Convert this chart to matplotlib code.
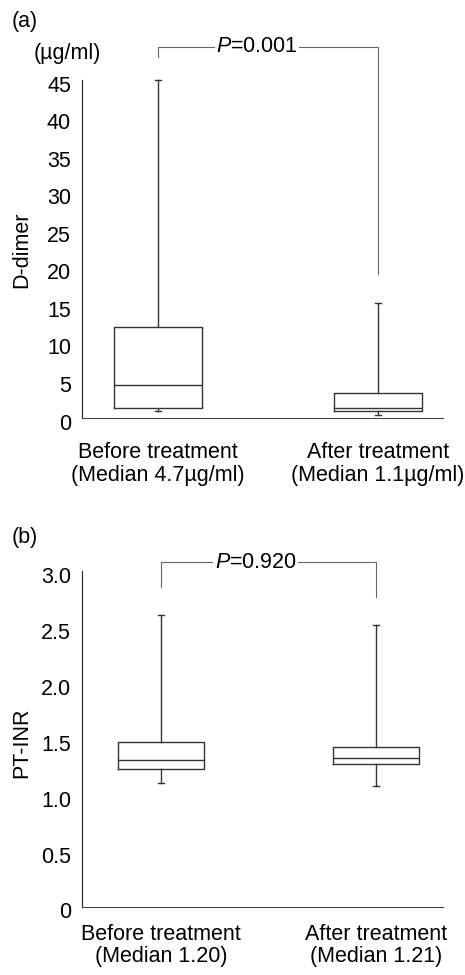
import matplotlib
matplotlib.use("Agg")
from matplotlib import pyplot as plt
from matplotlib.transforms import ScaledTranslation

plt.rcParams['font.family'] = ['Liberation Sans', 'DejaVu Sans']
plt.rcParams['mathtext.fontset'] = 'custom'
plt.rcParams['mathtext.it'] = 'Liberation Sans:italic'
plt.rcParams['mathtext.rm'] = 'Liberation Sans'

# (a) D-dimer
dd_labels = ['Before treatment\n(Median 4.7\u00b5g/ml)', 'After treatment\n(Median 1.1\u00b5g/ml)']
dd_whislo = [0.9, 0.3]
dd_q1 = [1.3, 0.9]
dd_med = [4.3, 1.3]
dd_q3 = [12.0, 3.2]
dd_whishi = [45.0, 15.2]
dd_p = 'P=0.001'
dd_yticks = [0, 5, 10, 15, 20, 25, 30, 35, 40, 45]

# (b) PT-INR
pt_labels = ['Before treatment\n(Median 1.20)', 'After treatment\n(Median 1.21)']
pt_whislo = [1.10, 1.08]
pt_q1 = [1.23, 1.27]
pt_med = [1.31, 1.33]
pt_q3 = [1.47, 1.43]
pt_whishi = [2.61, 2.52]
pt_p = 'P=0.920'
pt_yticks = [0, 0.5, 1.0, 1.5, 2.0, 2.5, 3.0]
pt_yticklabels = ['0', '0.5', '1.0', '1.5', '2.0', '2.5', '3.0']

W, H = 465, 975
FS = 15.5
fig = plt.figure(figsize=(W / 100, H / 100), dpi=100)


def px_axes(left, right, top, bottom):
    return fig.add_axes([left / W, 1 - bottom / H, (right - left) / W, (bottom - top) / H])


def draw(ax, whislo, q1, med, q3, whishi, labels, xlim, ylim, ytop, xpad):
    stats = []
    for i in range(2):
        stats.append(dict(whislo=whislo[i], q1=q1[i], med=med[i], q3=q3[i], whishi=whishi[i], fliers=[]))
    line = dict(color='#333333', linewidth=1.0)
    ax.bxp(stats, positions=[1, 2], widths=0.4, capwidths=0.03, showfliers=False,
           boxprops=line, whiskerprops=line, capprops=line,
           medianprops=dict(color='#333333', linewidth=1.0))
    ax.set_xlim(*xlim)
    ax.set_ylim(*ylim)
    for s in ['top', 'right']:
        ax.spines[s].set_visible(False)
    ax.spines['left'].set_bounds(0, ytop)
    ax.spines['left'].set_color('#222222')
    ax.spines['bottom'].set_color('#444444')
    ax.set_xticks([1, 2])
    ax.set_xticklabels(labels, fontsize=FS, linespacing=1.1)
    ax.tick_params(axis='both', length=0)
    ax.tick_params(axis='y', pad=8, labelsize=FS)
    ax.tick_params(axis='x', pad=xpad)


def shift_yticks(ax):
    off = ScaledTranslation(0, -4 / 100, fig.dpi_scale_trans)
    for lab in ax.get_yticklabels():
        lab.set_transform(lab.get_transform() + off)


def bracket(ax, top, left_end, right_end, xtext, text):
    ax.plot([1, 1, 2, 2], [left_end, top, top, right_end], color='#666666',
            linewidth=0.8, clip_on=False, zorder=1)
    ax.text(xtext, top, r'$\mathit{P}$' + text[1:], fontsize=FS, ha='center', va='center',
            bbox=dict(facecolor='white', edgecolor='none', pad=1), zorder=3, clip_on=False)


# panel (a)
ax1 = px_axes(82, 443, 40, 417.5)
draw(ax1, dd_whislo, dd_q1, dd_med, dd_q3, dd_whishi, dd_labels, (0.655, 2.295), (0, 50.3), 45, 18)
ax1.set_yticks(dd_yticks)
ax1.set_yticklabels([str(v) for v in dd_yticks])
shift_yticks(ax1)
ax1.set_ylabel('D-dimer', fontsize=FS)
ax1.yaxis.set_label_coords(-0.139, 0.444)
bracket(ax1, 49.4, 48.1, 19.1, 1.45, dd_p)
fig.text(12 / W, 1 - 22 / H, '(a)', fontsize=FS, ha='left', va='center')
fig.text(67 / W, 1 - 53 / H, '(\u00b5g/ml)', fontsize=FS, ha='center', va='center')

# panel (b)
ax2 = px_axes(82, 443, 562, 906.5)
draw(ax2, pt_whislo, pt_q1, pt_med, pt_q3, pt_whishi, pt_labels, (0.633, 2.31), (0, 3.08), 3.0, 12.5)
ax2.set_yticks(pt_yticks)
ax2.set_yticklabels(pt_yticklabels)
shift_yticks(ax2)
ax2.set_ylabel('PT-INR', fontsize=FS)
ax2.yaxis.set_label_coords(-0.139, 0.475)
bracket(ax2, 3.08, 2.86, 2.77, 1.44, pt_p)
fig.text(12 / W, 1 - 537 / H, '(b)', fontsize=FS, ha='left', va='center')

fig.savefig('out.png', dpi=100)
